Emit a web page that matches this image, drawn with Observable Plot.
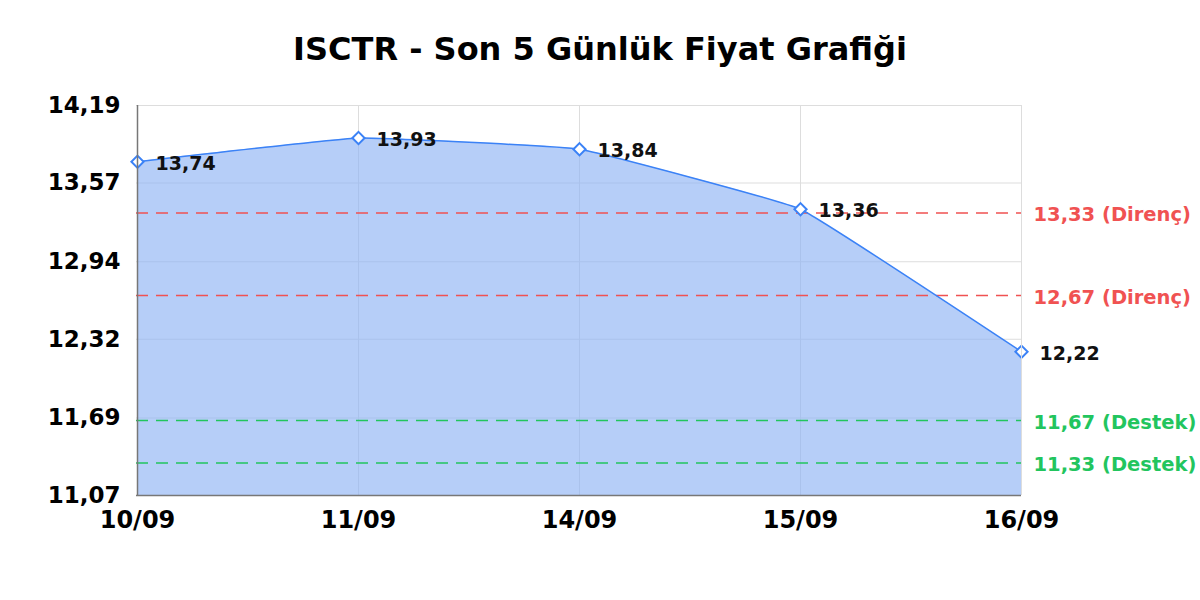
<!DOCTYPE html>
<html><head><meta charset="utf-8">
<script src="https://cdn.jsdelivr.net/npm/d3@7"></script>
<script src="https://cdn.jsdelivr.net/npm/@observablehq/plot@0.6"></script>
<style>
body{margin:0;background:#fff;font-family:"DejaVu Sans",sans-serif;}
#title{height:80px;line-height:98px;text-align:center;font-weight:bold;font-size:32px;color:#000;}
</style></head>
<body>
<div id="title">ISCTR - Son 5 Günlük Fiyat Grafiği</div>
<div id="chart"></div>
<script>
const dates = ["10/09","11/09","14/09","15/09","16/09"];
const prices = [13.74, 13.93, 13.84, 13.36, 12.22];
const yTicks = [11.07, 11.69, 12.32, 12.94, 13.57, 14.19];
const resistance = [13.33, 12.67];
const support = [11.67, 11.33];

const data = dates.map((d,i)=>({date:d, price:prices[i]}));
const fmt = v => v.toFixed(2).replace(".", ",");
const blue = "#3b82f6", red = "#f05252", green = "#22c55e";

const chart = Plot.plot({
  width: 1200, height: 520,
  marginLeft: 136, marginRight: 179, marginTop: 25, marginBottom: 105,
  style: {fontFamily: "DejaVu Sans, sans-serif", fontWeight: "bold", background: "#fff"},
  x: {type: "point", domain: dates, padding: 0, label: null},
  y: {domain: [11.07, 14.19], label: null},
  marks: [
    Plot.gridX(dates, {stroke: "#dddddd", strokeOpacity: 1}),
    Plot.gridY(yTicks, {stroke: "#dddddd", strokeOpacity: 1}),
    Plot.areaY(data, {x: "date", y1: 11.07, y2: "price", curve: "cardinal", tension: 0.75, fill: "#8fb3f5", fillOpacity: 0.65}),
    Plot.ruleY(resistance, {stroke: red, strokeWidth: 1.5, strokeDasharray: "12,8"}),
    Plot.ruleY(support, {stroke: green, strokeWidth: 1.5, strokeDasharray: "12,8"}),
    Plot.lineY(data, {x: "date", y: "price", curve: "cardinal", tension: 0.75, stroke: blue, strokeWidth: 1.5}),
    Plot.dot(data, {x: "date", y: "price", symbol: "diamond2", r: 5.5, stroke: blue, strokeWidth: 2, fill: "#fff"}),
    Plot.text(data, {x: "date", y: "price", text: d => fmt(d.price), dx: 18, dy: 2, textAnchor: "start", fontSize: 19, fontWeight: "bold", fill: "#111"}),
    Plot.text(resistance, {x: () => "16/09", y: d => d, text: d => fmt(d) + " (Direnç)", dx: 12, dy: 2, textAnchor: "start", fontSize: 19.5, fontWeight: "bold", fill: red}),
    Plot.text(support, {x: () => "16/09", y: d => d, text: d => fmt(d) + " (Destek)", dx: 12, dy: 2, textAnchor: "start", fontSize: 19.5, fontWeight: "bold", fill: green}),
    Plot.axisX({fontSize: 24, fontWeight: "bold", tickSize: 0, tickPadding: 15, label: null, fill: "#000"}),
    Plot.axisY({ticks: yTicks, tickFormat: fmt, fontSize: 23, fontWeight: "bold", tickSize: 0, tickPadding: 16, label: null, fill: "#000"}),
    Plot.ruleX(["16/09"], {stroke: "#dddddd"}),
    Plot.ruleY([14.19], {stroke: "#dddddd"}),
    Plot.ruleY([11.07], {stroke: "#777", strokeWidth: 1.5}),
    Plot.ruleX(["10/09"], {stroke: "#777", strokeWidth: 1.5})
  ]
});
document.getElementById("chart").appendChild(chart);
</script>
</body></html>
